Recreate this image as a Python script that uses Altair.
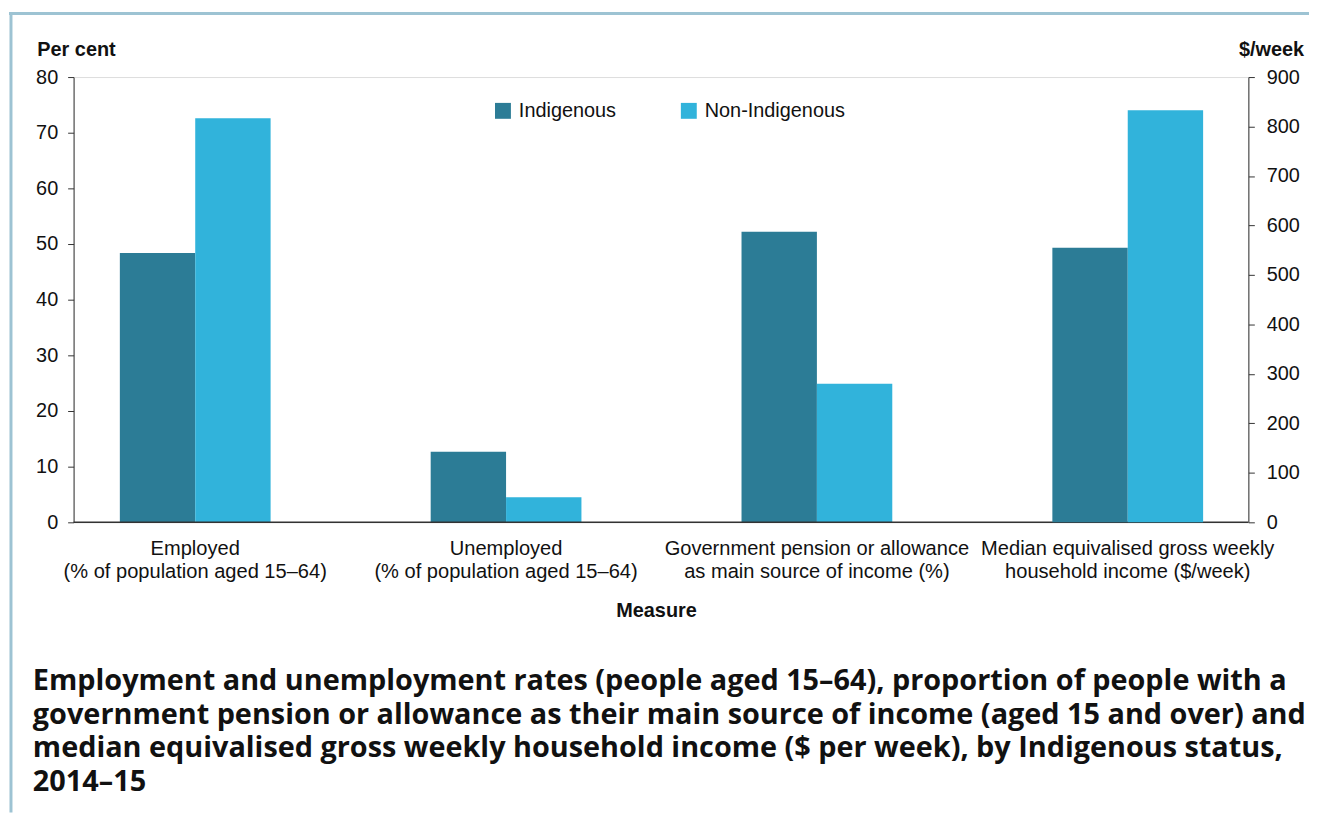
import altair as alt
import pandas as pd

measures = [
    "Employed|(% of population aged 15–64)",
    "Unemployed|(% of population aged 15–64)",
    "Government pension or allowance|as main source of income (%)",
    "Median equivalised gross weekly|household income ($/week)",
]
axis_side = ["left", "left", "left", "right"]
statuses = ["Indigenous", "Non-Indigenous"]
indigenous = [48.4, 12.7, 52.2, 555]
non_indigenous = [72.6, 4.5, 24.9, 833]
colors = ["#2C7C96", "#31B3DB"]
left_ticks = [0, 10, 20, 30, 40, 50, 60, 70, 80]
right_ticks = [0, 100, 200, 300, 400, 500, 600, 700, 800, 900]
title_lines = [
    "Employment and unemployment rates (people aged 15–64), proportion of people with a",
    "government pension or allowance as their main source of income (aged 15 and over) and",
    "median equivalised gross weekly household income ($ per week), by Indigenous status,",
    "2014–15",
]

rows = []
for m, side, a, b in zip(measures, axis_side, indigenous, non_indigenous):
    rows.append({"measure": m, "side": side, "status": statuses[0], "value": a})
    rows.append({"measure": m, "side": side, "status": statuses[1], "value": b})
df = pd.DataFrame(rows)

FONT = "Liberation Sans"
AX = "#333333"
TXT = "#111111"

x_enc = alt.X(
    "measure:N",
    sort=measures,
    scale=alt.Scale(domain=measures, range=[-34, 1217], paddingInner=0.515, paddingOuter=0.2575),
    axis=alt.Axis(
        title="Measure",
        labelExpr="split(datum.label, '|')",
        labelAngle=0,
        labelFont=FONT,
        labelFontSize=20.2,
        labelColor=TXT,
        labelLineHeight=24,
        labelPadding=16,
        labelLimit=400,
        ticks=False,
        domain=False,
        titleFont=FONT,
        titleFontSize=20,
        titleFontWeight="bold",
        titleColor=TXT,
        titlePadding=19,
        titleX=586,
    ),
)
xo = alt.XOffset("status:N", sort=statuses)
col = alt.Color(
    "status:N",
    sort=statuses,
    scale=alt.Scale(domain=statuses, range=colors),
    legend=alt.Legend(
        title=None,
        orient="none",
        legendX=422,
        legendY=24,
        direction="horizontal",
        symbolType="square",
        symbolSize=256,
        symbolStrokeWidth=0,
        labelFont=FONT,
        labelFontSize=20,
        labelColor=TXT,
        labelOffset=6,
        columnPadding=63,
        padding=0,
    ),
)

axis_common = dict(
    labelFont=FONT,
    labelFontSize=20,
    labelColor=TXT,
    domainColor=AX,
    tickColor=AX,
    tickSize=6,
    grid=False,
    titleFont=FONT,
    titleFontSize=20,
    titleFontWeight="bold",
    titleColor=TXT,
    titleAngle=0,
    titleAlign="left",
    titleBaseline="alphabetic",
    titleY=-22,
)

left_bars = (
    alt.Chart(df)
    .transform_filter(alt.datum.side == "left")
    .mark_bar()
    .encode(
        x=x_enc,
        xOffset=xo,
        color=col,
        y=alt.Y(
            "value:Q",
            scale=alt.Scale(domain=[0, 80], nice=False),
            axis=alt.Axis(title="Per cent", orient="left", values=left_ticks,
                          titleX=-37, labelPadding=10, **axis_common),
        ),
    )
)
baseline = (
    alt.Chart(alt.Data(values=[{"v": 0}]))
    .mark_rule(color=AX, strokeWidth=1.5)
    .encode(y=alt.Y("v:Q", scale=alt.Scale(domain=[0, 80], nice=False)))
)
left_layer = alt.layer(left_bars, baseline)

right_bars = (
    alt.Chart(df)
    .transform_filter(alt.datum.side == "right")
    .mark_bar()
    .encode(
        x=x_enc,
        xOffset=xo,
        color=col,
        y=alt.Y(
            "value:Q",
            scale=alt.Scale(domain=[0, 900], nice=False),
            axis=alt.Axis(title="$/week", orient="right", values=right_ticks,
                          titleX=-10, labelPadding=12, **axis_common),
        ),
    )
)

border_src = alt.Data(values=[{"a": 1}])
border_top = alt.Chart(border_src).mark_rule(color="#9DC3D3", strokeWidth=3).encode(
    x=alt.value(-65), x2=alt.value(1250), y=alt.value(-64)
)
border_left = alt.Chart(border_src).mark_rule(color="#9DC3D3", strokeWidth=3).encode(
    x=alt.value(-63), y=alt.value(-65), y2=alt.value(740)
)

chart = (
    alt.layer(left_layer, right_bars, border_top, border_left)
    .resolve_scale(y="independent")
    .properties(
        width=1182,
        height=448,
        autosize=alt.AutoSizeParams(type="none"),
        padding={"left": 66, "top": 67, "right": 61, "bottom": 292},
        title=alt.TitleParams(
            text=title_lines,
            orient="bottom",
            anchor="start",
            frame="group",
            font="Open Sans",
            fontSize=29,
            fontWeight="bold",
            color=TXT,
            lineHeight=34,
            dx=-41,
            dy=-148,
            offset=0,
        ),
    )
    .configure_view(strokeWidth=0, stroke="transparent")
    .configure(background="white")
)

chart.save("out.html", embed_options={"renderer": "svg", "actions": False})
